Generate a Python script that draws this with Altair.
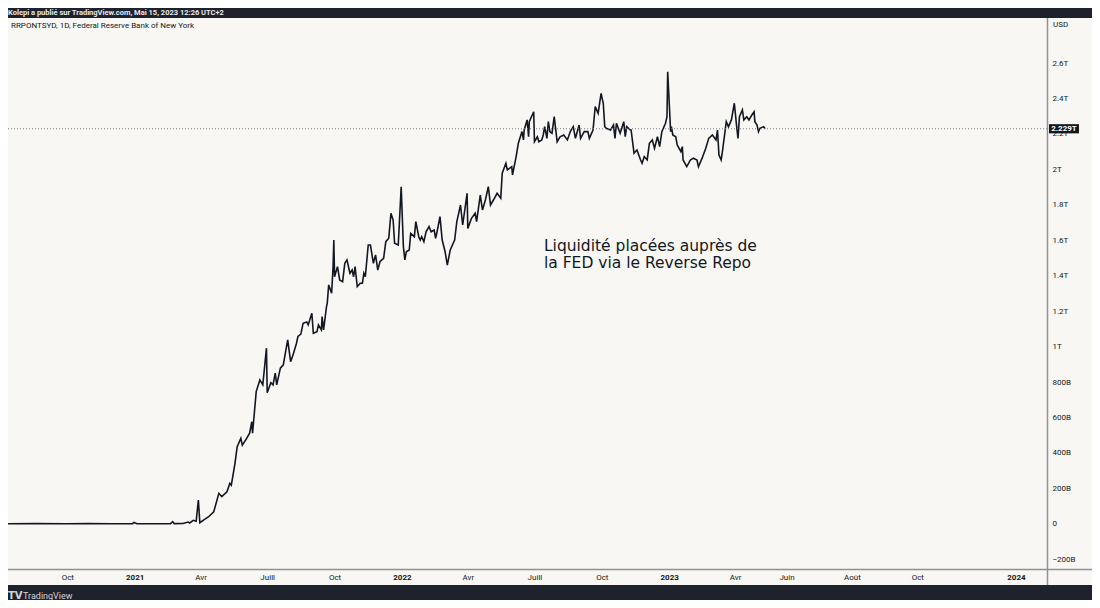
import altair as alt
import pandas as pd

# ---------------- data (values in billions USD) ----------------
DATES_2020 = ["2020-07-12", "2020-08-20", "2020-09-30", "2020-10-30", "2020-12-01",
              "2020-12-29", "2020-12-31"]
VALUES_2020 = [0, 1, 0, 1, 0, 1, 8]

DATES_2021 = [
    "2021-01-04", "2021-02-10", "2021-02-19", "2021-02-22", "2021-02-24", "2021-03-08",
    "2021-03-15", "2021-03-17", "2021-03-22", "2021-03-26", "2021-03-29", "2021-03-31",
    "2021-04-05", "2021-04-12", "2021-04-19", "2021-04-26", "2021-04-30", "2021-05-07",
    "2021-05-11", "2021-05-13", "2021-05-18", "2021-05-21", "2021-05-26", "2021-05-28",
    "2021-06-03", "2021-06-07", "2021-06-10", "2021-06-11", "2021-06-16", "2021-06-21",
    "2021-06-25", "2021-06-30", "2021-07-01", "2021-07-06", "2021-07-09", "2021-07-12",
    "2021-07-14", "2021-07-19", "2021-07-23", "2021-07-29", "2021-08-02", "2021-08-06",
    "2021-08-10", "2021-08-12", "2021-08-16", "2021-08-19", "2021-08-24", "2021-08-26",
    "2021-08-31", "2021-09-02", "2021-09-07", "2021-09-09", "2021-09-13", "2021-09-14",
    "2021-09-16", "2021-09-20", "2021-09-21", "2021-09-23", "2021-09-27", "2021-09-29",
    "2021-09-30", "2021-10-01", "2021-10-05", "2021-10-08", "2021-10-12", "2021-10-15",
    "2021-10-18", "2021-10-22", "2021-10-25", "2021-10-27", "2021-10-29", "2021-11-01",
    "2021-11-05", "2021-11-08", "2021-11-10", "2021-11-12", "2021-11-16", "2021-11-19",
    "2021-11-23", "2021-11-26", "2021-11-29", "2021-12-02", "2021-12-07", "2021-12-10",
    "2021-12-14", "2021-12-17", "2021-12-20", "2021-12-22", "2021-12-27", "2021-12-31"]
VALUES_2021 = [
    0, 0, 1, 12, 1, 2,
    10, 5, 20, 15, 134, 6,
    21, 40, 68, 172, 153, 181,
    228, 218, 341, 435, 482, 444,
    482, 511, 576, 511, 746, 812,
    784, 991, 740, 796, 784, 850,
    784, 878, 897, 1038, 915, 963,
    1019, 1057, 1070, 1131, 1139, 1122,
    1188, 1075, 1084, 1122, 1094, 1169,
    1094, 1225, 1244, 1348, 1301, 1451,
    1601, 1394, 1451, 1376, 1366, 1470,
    1489, 1414, 1432, 1394, 1451, 1338,
    1357, 1357, 1414, 1394, 1573, 1573,
    1470, 1517, 1432, 1479, 1498, 1592,
    1611, 1752, 1714, 1583, 1573, 1902]

DATES_2022 = [
    "2022-01-03", "2022-01-05", "2022-01-07", "2022-01-11", "2022-01-13", "2022-01-18",
    "2022-01-20", "2022-01-24", "2022-01-26", "2022-01-28", "2022-01-31", "2022-02-03",
    "2022-02-07", "2022-02-10", "2022-02-14", "2022-02-16", "2022-02-18", "2022-02-22",
    "2022-02-25", "2022-03-01", "2022-03-04", "2022-03-08", "2022-03-11", "2022-03-14",
    "2022-03-17", "2022-03-22", "2022-03-25", "2022-03-31", "2022-04-01", "2022-04-06",
    "2022-04-11", "2022-04-13", "2022-04-18", "2022-04-21", "2022-04-25", "2022-04-29",
    "2022-05-02", "2022-05-06", "2022-05-11", "2022-05-16", "2022-05-18", "2022-05-23",
    "2022-05-25", "2022-05-31", "2022-06-01", "2022-06-06", "2022-06-09", "2022-06-14",
    "2022-06-16", "2022-06-17", "2022-06-21", "2022-06-23", "2022-06-24", "2022-06-30",
    "2022-07-01", "2022-07-05", "2022-07-07", "2022-07-11", "2022-07-13", "2022-07-15",
    "2022-07-18", "2022-07-20", "2022-07-22", "2022-07-25", "2022-07-28", "2022-08-01",
    "2022-08-05", "2022-08-10", "2022-08-15", "2022-08-19", "2022-08-23", "2022-08-26",
    "2022-08-31", "2022-09-02", "2022-09-07", "2022-09-12", "2022-09-14", "2022-09-19",
    "2022-09-22", "2022-09-26", "2022-09-30", "2022-10-03", "2022-10-05", "2022-10-07",
    "2022-10-13", "2022-10-17", "2022-10-19", "2022-10-21", "2022-10-26", "2022-10-31",
    "2022-11-02", "2022-11-04", "2022-11-09", "2022-11-10", "2022-11-14", "2022-11-18",
    "2022-11-23", "2022-11-25", "2022-11-28", "2022-12-02", "2022-12-05", "2022-12-09",
    "2022-12-12", "2022-12-16", "2022-12-19", "2022-12-22", "2022-12-27", "2022-12-29",
    "2022-12-30"]
VALUES_2022 = [
    1564, 1489, 1535, 1545, 1639, 1620,
    1705, 1620, 1601, 1620, 1592, 1648,
    1677, 1648, 1658, 1611, 1648, 1733,
    1601, 1535, 1460, 1545, 1573, 1601,
    1705, 1799, 1686, 1865, 1667, 1724,
    1752, 1705, 1855, 1771, 1827, 1902,
    1799, 1827, 1865, 1837, 1978, 2034,
    1997, 2015, 1968, 2072, 2147, 2213,
    2166, 2222, 2279, 2184, 2269, 2325,
    2156, 2184, 2156, 2166, 2194, 2241,
    2175, 2269, 2213, 2204, 2297, 2156,
    2184, 2194, 2166, 2213, 2241, 2175,
    2250, 2175, 2213, 2213, 2175, 2222,
    2354, 2316, 2429, 2373, 2241, 2232,
    2222, 2250, 2175, 2260, 2204, 2269,
    2184, 2241, 2222, 2222, 2091, 2109,
    2053, 2034, 2072, 2053, 2147, 2166,
    2119, 2184, 2128, 2213, 2260, 2297,
    2551]

DATES_2023 = [
    "2023-01-03", "2023-01-04", "2023-01-06", "2023-01-10", "2023-01-12", "2023-01-17",
    "2023-01-19", "2023-01-20", "2023-01-25", "2023-01-30", "2023-02-03", "2023-02-08",
    "2023-02-10", "2023-02-15", "2023-02-20", "2023-02-24", "2023-03-01", "2023-03-06",
    "2023-03-08", "2023-03-10", "2023-03-13", "2023-03-15", "2023-03-20", "2023-03-23",
    "2023-03-27", "2023-03-31", "2023-04-03", "2023-04-05", "2023-04-07", "2023-04-11",
    "2023-04-13", "2023-04-17", "2023-04-20", "2023-04-24", "2023-04-27", "2023-04-28",
    "2023-05-01", "2023-05-03", "2023-05-05", "2023-05-10", "2023-05-12"]
VALUES_2023 = [
    2213, 2241, 2194, 2184, 2138, 2100,
    2128, 2053, 2015, 2053, 2063, 2053,
    2015, 2063, 2119, 2175, 2194, 2166,
    2222, 2081, 2053, 2109, 2269, 2241,
    2279, 2373, 2250, 2175, 2297, 2335,
    2279, 2297, 2279, 2307, 2325, 2269,
    2250, 2213, 2232, 2241, 2229]

DATES = DATES_2020 + DATES_2021 + DATES_2022 + DATES_2023
VALUES_B = VALUES_2020 + VALUES_2021 + VALUES_2022 + VALUES_2023
LAST_VALUE = VALUES_B[-1]

# time axis (TradingView: future bars are spaced wider than past trading days)
X_START, X_END = "2020-07-12", "2024-01-30"
FUTURE_STRETCH = 1.464
X_TICKS = ["2020-10-01", "2021-01-01", "2021-04-01", "2021-07-01", "2021-10-01",
           "2022-01-01", "2022-04-01", "2022-07-01", "2022-10-01", "2023-01-01",
           "2023-04-01", "2023-06-01", "2023-08-01", "2023-10-01", "2024-01-01"]
X_TICK_LABELS = ["Oct", "2021", "Avr", "Juill", "Oct", "2022", "Avr", "Juill", "Oct",
                 "2023", "Avr", "Juin", "Août", "Oct", "2024"]
Y_TICKS = [-200, 0, 200, 400, 600, 800, 1000, 1200, 1400, 1600, 1800, 2000,
           2200, 2400, 2600]
Y_DOMAIN = [-255, 2854]

HEADER = "Kolepi a publié sur TradingView.com, Mai 15, 2023 12:26 UTC+2"
LEGEND = "RRPONTSYD, 1D, Federal Reserve Bank of New York"
CURRENCY = "USD"
ANNOT_LINES = ["Liquidité placées auprès de", "la FED via le Reverse Repo"]
ANNOT_DATE, ANNOT_VALUE = "2022-07-14", 1541
BRAND = "TradingView"

# ---------------- styling / layout ----------------
W, H = 1039, 551
DARK = "#1e222d"
PANEL = "#f8f7f3"
INK = "#131722"
SEP = "#8f9199"
UI_FONT = "Roboto"

t0 = pd.Timestamp(X_START)
t_last = pd.Timestamp(DATES[-1])
last_days = (t_last - t0).days


def pos(s):
    d = (pd.Timestamp(s) - t0).days
    if d <= last_days:
        return float(d)
    return round(last_days + (d - last_days) * FUTURE_STRETCH, 3)


df = pd.DataFrame({"pos": [pos(d) for d in DATES], "value": VALUES_B})
one = pd.DataFrame({"k": [0]})

tick_pos = [pos(s) for s in X_TICKS]
year_pos = [p for p, lab in zip(tick_pos, X_TICK_LABELS) if lab.isdigit()]
vals_js = "[" + ",".join(repr(p) for p in tick_pos) + "]"
labs_js = "[" + ",".join(f"'{l}'" for l in X_TICK_LABELS) + "]"
years_js = "[" + ",".join(repr(p) for p in year_pos) + "]"

x_scale = alt.Scale(domain=[0, pos(X_END)], nice=False, zero=False)
y_scale = alt.Scale(domain=Y_DOMAIN, nice=False, zero=False)

x_axis = alt.Axis(
    values=tick_pos,
    labelExpr=f"{labs_js}[indexof({vals_js}, datum.value)]",
    labelFontWeight={"condition": {"test": f"indexof({years_js}, datum.value) >= 0",
                                   "value": "bold"}, "value": "normal"},
    domain=False, ticks=False, grid=False, labelPadding=4, labelFont=UI_FONT,
    labelFontSize=8, labelColor=INK, labelFlush=False, labelOverlap=False, title=None)
y_axis = alt.Axis(
    orient="right", values=Y_TICKS,
    labelExpr="datum.value == 0 ? '0' : (datum.value < 0 ? '−' : '') + "
              "(abs(datum.value) >= 1000 ? (abs(datum.value) / 1000) + 'T' : abs(datum.value) + 'B')",
    domain=False, ticks=False, grid=False, labelPadding=5, labelFont=UI_FONT,
    labelFontSize=8, labelColor=INK, labelBaseline="middle", labelOverlap=False,
    labelFlush=False, title=None)

X = alt.X("pos:Q", scale=x_scale, axis=x_axis)
Y = alt.Y("value:Q", scale=y_scale, axis=y_axis)

line = alt.Chart(df).mark_line(color=INK, strokeWidth=1.6).encode(x=X, y=Y)

# frame bars (dark header / footer)
top_bar = alt.Chart(one).mark_rect(color=DARK).encode(
    x=alt.value(0), x2=alt.value(W + 45), y=alt.value(-10), y2=alt.value(0))
bottom_bar = alt.Chart(one).mark_rect(color=DARK).encode(
    x=alt.value(0), x2=alt.value(W + 45), y=alt.value(567), y2=alt.value(590))

# separators between plot and axes
sep_v = alt.Chart(one).mark_rule(color=SEP, strokeWidth=1.5).encode(
    x=alt.value(W + 0.5), y=alt.value(0), y2=alt.value(567))
sep_h = alt.Chart(one).mark_rule(color=SEP, strokeWidth=1.5).encode(
    y=alt.value(H + 0.5), x=alt.value(0), x2=alt.value(W + 46))

last_df = pd.DataFrame({"value": [LAST_VALUE]})
price_line = alt.Chart(last_df).mark_rule(
    color="#787b86", strokeWidth=1, strokeDash=[1, 2]).encode(y=Y)

box_half = 4.6 * (Y_DOMAIN[1] - Y_DOMAIN[0]) / H
box_df = pd.DataFrame({"value": [LAST_VALUE - box_half], "hi": [LAST_VALUE + box_half]})
price_box = alt.Chart(box_df).mark_rect(color=INK).encode(
    x=alt.value(W + 2), x2=alt.value(W + 32), y=Y, y2="hi:Q")
price_text = alt.Chart(last_df).mark_text(
    color="white", font=UI_FONT, fontSize=8, fontWeight="bold", align="center",
    baseline="middle", text=f"{LAST_VALUE / 1000:.3f}T").encode(
    x=alt.value(W + 17), y=Y)

annot_df = pd.DataFrame({"pos": [pos(ANNOT_DATE)], "value": [ANNOT_VALUE]})
annot = alt.Chart(annot_df).mark_text(
    text=ANNOT_LINES, font="DejaVu Sans", fontSize=15.5, lineHeight=17, color=INK,
    align="left", baseline="alphabetic").encode(x=X, y=Y)

header = alt.Chart(one).mark_text(
    text=HEADER, font=UI_FONT, fontSize=7.5, fontWeight="bold", color="#e6e8ee",
    align="left", baseline="alphabetic").encode(x=alt.value(0), y=alt.value(-3.5))
legend = alt.Chart(one).mark_text(
    text=LEGEND, font=UI_FONT, fontSize=8, color=INK, align="left",
    baseline="middle").encode(x=alt.value(3), y=alt.value(8))
currency = alt.Chart(one).mark_text(
    text=CURRENCY, font=UI_FONT, fontSize=8, color=INK, align="left",
    baseline="middle").encode(x=alt.value(W + 6), y=alt.value(7))
logo_mark = alt.Chart(one).mark_text(
    text="TV", font="DejaVu Sans", fontSize=10, fontWeight="bold", color="#d1d4dc",
    align="left", baseline="middle").encode(x=alt.value(0), y=alt.value(578))
logo_text = alt.Chart(one).mark_text(
    text=BRAND, font=UI_FONT, fontSize=9, color="#d1d4dc", align="left",
    baseline="middle").encode(x=alt.value(15), y=alt.value(578))

chart = alt.layer(
    line, top_bar, bottom_bar, price_line, sep_v, sep_h, price_box, price_text,
    annot, header, legend, currency, logo_mark, logo_text
).properties(
    width=W, height=H,
    padding={"left": 0, "top": 10, "right": 45, "bottom": 31},
    autosize=alt.AutoSizeParams(type="none"),
    background=PANEL,
).configure_view(stroke=None)

chart.save("out.html", embed_options={"renderer": "svg", "actions": False})
